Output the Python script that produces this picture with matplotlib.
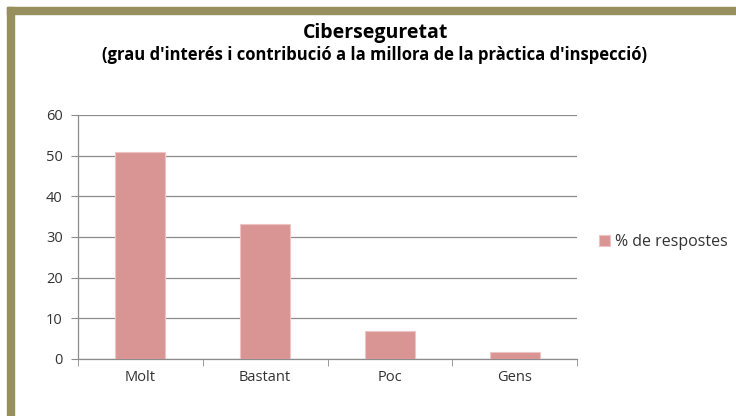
import matplotlib.pyplot as plt
from matplotlib.patches import Rectangle

categories = ["Molt", "Bastant", "Poc", "Gens"]
values = [51.0, 33.3, 7.0, 1.7]
series_label = "% de respostes"
title = "Ciberseguretat"
subtitle = "(grau d'interés i contribució a la millora de la pràctica d'inspecció)"
y_ticks = [0, 10, 20, 30, 40, 50, 60]

plt.rcParams["font.family"] = ["Open Sans", "DejaVu Sans"]

W, H = 736, 416
fig = plt.figure(figsize=(W / 100, H / 100), dpi=100)

# olive frame on top and left
border = "#988f5e"
fig.patches.append(Rectangle((7 / W, 0), 7 / W, 1 - 7 / H, transform=fig.transFigure,
                             color=border, zorder=0))
fig.patches.append(Rectangle((7 / W, 1 - 14 / H), 1 - 7 / W, 7 / H, transform=fig.transFigure,
                             color=border, zorder=0))

ax = fig.add_axes([78 / W, 1 - 359 / H, (577 - 78) / W, (359 - 115) / H])
x = range(len(categories))
ax.bar(x, values, width=0.4, color="#d99594", edgecolor="#ecc4c3", linewidth=0.8,
       label=series_label, zorder=3)

ax.set_xlim(-0.5, len(categories) - 0.5)
ax.set_ylim(0, 60)
ax.set_yticks(y_ticks)
ax.set_xticks(list(x), labels=categories)
ax.set_xticks([i - 0.5 for i in range(len(categories) + 1)], minor=True)
ax.tick_params(axis="x", which="major", length=0, pad=8, labelsize=10.5, colors="#333333")
ax.tick_params(axis="x", which="minor", length=5, color="#8c8c8c", direction="out")
ax.tick_params(axis="y", length=5, color="#8c8c8c", labelsize=10.5, colors="#333333", pad=6)
ax.tick_params(axis="y", color="#8c8c8c")
ax.grid(axis="y", color="#8c8c8c", linewidth=0.9, zorder=0)
for side in ["top", "right"]:
    ax.spines[side].set_visible(False)
for side in ["left", "bottom"]:
    ax.spines[side].set_color("#8c8c8c")
    ax.spines[side].set_linewidth(0.9)

ax.legend(loc="center left", bbox_to_anchor=(585 / W, 1 - 242 / H), bbox_transform=fig.transFigure,
          frameon=False, fontsize=11.5, handlelength=0.65, handleheight=0.65, handletextpad=0.35,
          labelcolor="#333333")

fig.text(376 / W, 1 - 33 / H, title, ha="center", va="center", fontsize=14, fontweight="bold")
fig.text(375 / W, 1 - 55 / H, subtitle, ha="center", va="center", fontsize=12, fontweight="bold")

fig.savefig("out.png", dpi=100)
